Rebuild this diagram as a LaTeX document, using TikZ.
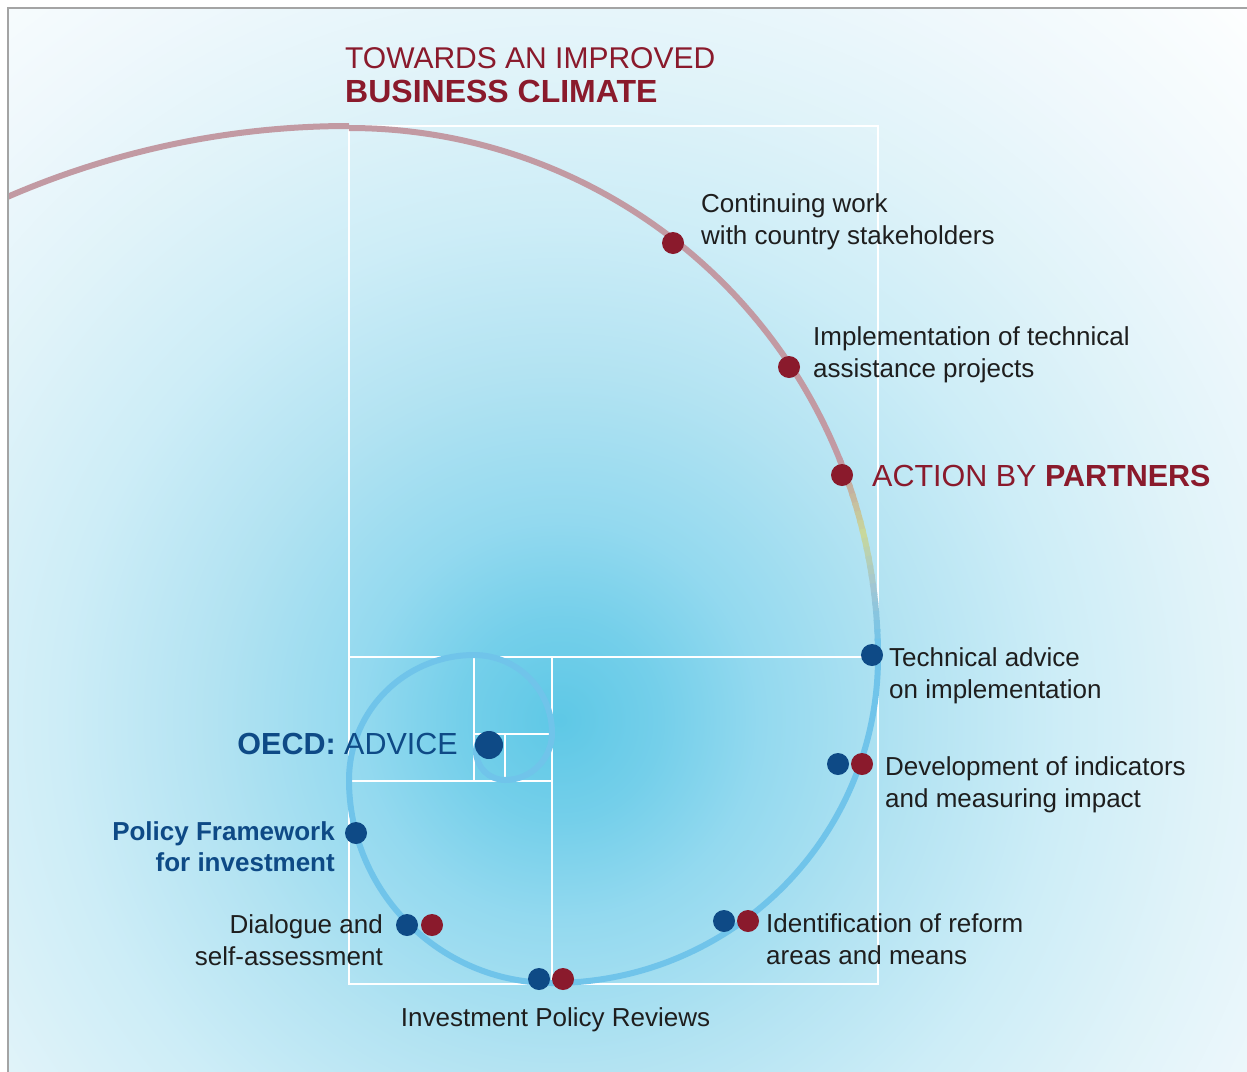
\documentclass[tikz,border=0pt]{standalone}
\usepackage{fontspec}
\setmainfont{Liberation Sans}
\definecolor{maroon}{HTML}{8A1A2C}
\definecolor{oblue}{HTML}{0E4A86}
\definecolor{rose}{HTML}{C29AA3}
\definecolor{ygreen}{HTML}{C8D89C}
\definecolor{gblue}{HTML}{A0C6D4}
\definecolor{sblue}{HTML}{70C4EA}
\definecolor{txt}{HTML}{1E1E1E}
\definecolor{framegray}{HTML}{A4A4A4}
\definecolor{bgA}{HTML}{5EC8E6}
\definecolor{bgB}{HTML}{74CFEA}
\definecolor{bgC}{HTML}{93D9EF}
\definecolor{bgD}{HTML}{B3E3F2}
\definecolor{bgE}{HTML}{CDEDF7}
\definecolor{bgF}{HTML}{E0F3F9}
\definecolor{bgG}{HTML}{EFF8FC}
\definecolor{bgH}{HTML}{FAFDFE}
\pgfdeclareradialshading{bgshade}{\pgfpoint{0bp}{0bp}}{color(0bp)=(bgA); color(2.5bp)=(bgB); color(5bp)=(bgC); color(8.75bp)=(bgD); color(12.5bp)=(bgE); color(16.25bp)=(bgF); color(20bp)=(bgG); color(23.75bp)=(bgH); color(25bp)=(white); color(50bp)=(white)}
\newcommand{\lblfont}{\fontsize{26}{32}\selectfont}
\newcommand{\ttlfont}{\fontsize{30.5}{35}\selectfont}
\tikzset{
  lab/.style={anchor=base west, inner sep=0pt, font=\lblfont, text=txt},
  labr/.style={anchor=base east, inner sep=0pt, font=\lblfont, text=txt},
  rdot/.style={circle, fill=maroon, minimum size=22pt, inner sep=0pt},
  bdot/.style={circle, fill=oblue, minimum size=22pt, inner sep=0pt},
  gridline/.style={draw=white, line width=2pt},
  spir/.style={line width=6pt, sblue},
  rosearc/.style={line width=6pt, rose},
}
\begin{document}
\begin{tikzpicture}[x=1pt, y=-1pt]
\useasboundingbox (0,0) rectangle (1247,1071);
\fill[white] (0,0) rectangle (1247,1071);
\coordinate (glow) at (560,720);
\begin{scope}
  \clip (8,8) rectangle (1260,1080);
  \fill[shading=bgshade] (glow) circle (1000);
  % golden rectangles
  \draw[gridline] (349,126) rectangle (878,984);
  \draw[gridline] (349,657) -- (878,657);
  \draw[gridline] (552,657) -- (552,984);
  \draw[gridline] (349,781) -- (552,781);
  \draw[gridline] (474,657) -- (474,781);
  \draw[gridline] (474,734) -- (552,734);
  \draw[gridline] (505,734) -- (505,781);
  % outer rose arc
  \draw[rosearc] (349,984) ++(-120:858) arc[start angle=-120, end angle=-90, radius=858];
\end{scope}
% main rose arc
\draw[rosearc] (349,657) ++(-90:529) arc[start angle=-90, end angle=-21.5, radius=529];
% colour transition
\foreach \a in {-22,...,-1}{
  \ifnum\a<-14
    \pgfmathsetmacro{\p}{(\a+22)/8*100}
    \colorlet{segc}{ygreen!\p!rose}
  \else\ifnum\a<-8
    \pgfmathsetmacro{\p}{(\a+14)/6*100}
    \colorlet{segc}{gblue!\p!ygreen}
  \else\ifnum\a<-2
    \pgfmathsetmacro{\p}{(\a+8)/6*100}
    \colorlet{segc}{sblue!\p!gblue}
  \else
    \colorlet{segc}{sblue}
  \fi\fi\fi
  \draw[line width=6pt, segc] (349,657) ++(\a:529) arc[start angle=\a, end angle=\a+1.3, radius=529];
}
% inner blue spiral
\draw[spir] (878,657) arc[start angle=0, end angle=90, radius=326]
  arc[start angle=90, end angle=180, radius=203]
  arc[start angle=180, end angle=270, radius=125]
  arc[start angle=270, end angle=360, radius=78]
  arc[start angle=0, end angle=90, radius=47]
  arc[start angle=90, end angle=180, radius=29]
  arc[start angle=180, end angle=270, radius=18];
% dots
\node[rdot] (d1) at (673,243) {};
\node[rdot] (d2) at (789,367) {};
\node[rdot] (d3) at (842,475) {};
\node[bdot] (d4) at (872,655) {};
\node[bdot] (d5b) at (838,764) {};
\node[rdot] (d5r) at (862,764) {};
\node[bdot] (d6b) at (724,921) {};
\node[rdot] (d6r) at (748,921) {};
\node[bdot] (d7b) at (539,979) {};
\node[rdot] (d7r) at (563,979) {};
\node[bdot] (d8b) at (407,925) {};
\node[rdot] (d8r) at (432,925) {};
\node[bdot] (d9) at (356,833) {};
\node[bdot, minimum size=28pt] (d10) at (489,745) {};
% title
\node[anchor=base west, inner sep=0pt, font=\fontsize{30}{35}\selectfont, text=maroon] (ttl1) at (345,68) {TOWARDS AN IMPROVED};
\node[anchor=base west, inner sep=0pt, font=\fontsize{32}{35}\selectfont\bfseries, text=maroon] (ttl2) at (345,102) {BUSINESS CLIMATE};
% labels
\node[lab] (t1a) at (701,212) {Continuing work};
\node[lab] (t1b) at (701,244) {with country stakeholders};
\node[lab] (t2a) at (813,345) {Implementation of technical};
\node[lab] (t2b) at (813,377) {assistance projects};
\node[anchor=base west, inner sep=0pt, font=\ttlfont, text=maroon] (t3) at (872,486) {ACTION BY \textbf{PARTNERS}};
\node[lab] (t4a) at (889,666) {Technical advice};
\node[lab] (t4b) at (889,698) {on implementation};
\node[lab] (t5a) at (885,775) {Development of indicators};
\node[lab] (t5b) at (885,807) {and measuring impact};
\node[lab] (t6a) at (766,932) {Identification of reform};
\node[lab] (t6b) at (766,964) {areas and means};
\node[anchor=base, inner sep=0pt, font=\lblfont, text=txt] (t7) at (555.5,1026) {Investment Policy Reviews};
\node[labr] (t8a) at (383,933) {Dialogue and};
\node[labr] (t8b) at (383,965) {self-assessment};
\node[labr, font=\lblfont\bfseries, text=oblue] (t9a) at (335,840) {Policy Framework};
\node[labr, font=\lblfont\bfseries, text=oblue] (t9b) at (335,871) {for investment};
\node[anchor=base east, inner sep=0pt, font=\ttlfont, text=oblue] (t10) at (458,754) {\textbf{OECD:} ADVICE};
% frame
\draw[framegray, line width=2pt] (8,1080) -- (8,8) -- (1260,8);
\end{tikzpicture}
\end{document}
